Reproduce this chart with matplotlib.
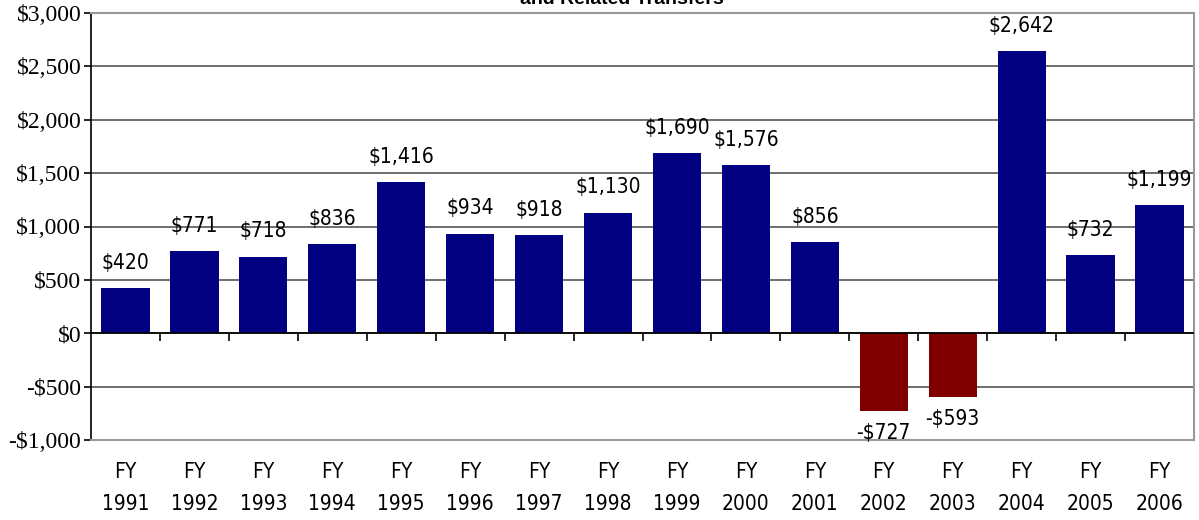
import numpy as np
import matplotlib
matplotlib.use('Agg')
from matplotlib import pyplot as plt

# 数据
years = ['1991', '1992', '1993', '1994', '1995', '1996', '1997', '1998',
         '1999', '2000', '2001', '2002', '2003', '2004', '2005', '2006']
values = [420, 771, 718, 836, 1416, 934, 918, 1130,
          1690, 1576, 856, -727, -593, 2642, 732, 1199]
y_ticks = [-1000, -500, 0, 500, 1000, 1500, 2000, 2500, 3000]

fig = plt.figure(figsize=(11.99, 5.2), dpi=100)
ax = fig.add_axes([91 / 1199, 1 - 440 / 520, (1194 - 91) / 1199, (440 - 13) / 520])

x = np.arange(len(years))
colors = ['#000080' if v >= 0 else '#800000' for v in values]
ax.bar(x, values, width=0.7, color=colors, zorder=3)

ax.set_xlim(-0.5, len(years) - 0.5)
ax.set_ylim(-1000, 3000)
ax.set_yticks(y_ticks)
ax.set_yticklabels([('-$' if t < 0 else '$') + f'{abs(t):,}' for t in y_ticks],
                   family='Liberation Serif', fontsize=17)
ax.yaxis.grid(True, color='#555555', linewidth=1.2, zorder=0)
ax.tick_params(axis='y', length=5, width=1.2, direction='out', pad=2)

ax.set_xticks(x)
ax.set_xticklabels(['FY\n' + y for y in years], family='DejaVu Sans',
                   fontstretch='condensed', fontsize=15, linespacing=1.75)
ax.tick_params(axis='x', length=0, pad=16)

# 零线和分类刻度
ax.axhline(0, color='black', linewidth=1.2, zorder=4)
sec = ax.secondary_xaxis(0.25)
sec.set_xticks(np.arange(0.5, len(years) - 0.5, 1.0))
sec.set_xticklabels([])
sec.tick_params(length=6, width=1.2, direction='out')
sec.spines['bottom'].set_visible(False)

for s in ['top', 'right', 'bottom']:
    ax.spines[s].set_color('#999999')
    ax.spines[s].set_linewidth(1.5)
ax.spines['left'].set_color('black')
ax.spines['left'].set_linewidth(1.2)

# 数值标签
for xi, v in zip(x, values):
    txt = ('-$' if v < 0 else '$') + f'{abs(v):,}'
    off = 11 if v >= 0 else -9
    ax.annotate(txt, (xi, v), xytext=(0, off), textcoords='offset points',
                ha='center', va='bottom' if v >= 0 else 'top',
                family='DejaVu Sans', fontstretch='condensed', fontsize=15, zorder=5)

fig.text(622 / 1199, 1 - 4 / 520, 'and Related Transfers', ha='center', va='baseline',
         family='Liberation Sans', fontweight='bold', fontsize=14)

fig.savefig('out.png', dpi=100)
